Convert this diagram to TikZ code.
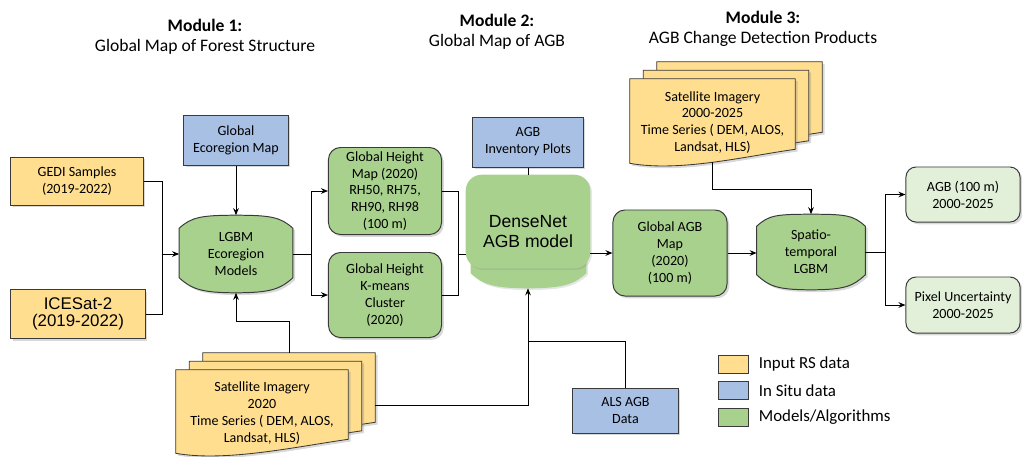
\documentclass[tikz,border=0pt]{standalone}
\usepackage{fontspec}
\setmainfont{Carlito}
\newfontfamily\arialfont{Liberation Sans}
\usepackage{xcolor}
\definecolor{agbYellow}{HTML}{FFDF8F}
\definecolor{agbBlue}{HTML}{A8C0E4}
\definecolor{agbGreen}{HTML}{A9D18E}
\definecolor{agbPale}{HTML}{E2F0D9}
\definecolor{agbLine}{HTML}{3A3A3A}
\usepackage{tikz}
\usetikzlibrary{arrows.meta,positioning,shadows,backgrounds,calc}
\tikzset{
    softshadow/.style={
        drop shadow={opacity=0.3, shadow xshift=1.6pt, shadow yshift=-1.6pt}
    },
    rsdata/.style={
        draw=agbLine,
        fill=agbYellow,
        rectangle,
        align=center,
        inner sep=2pt,
        line width=0.7pt,
        softshadow,
        font=\fontsize{10}{12}\selectfont
    },
    insitu/.style={
        rsdata,
        fill=agbBlue
    },
    model/.style={
        rsdata,
        fill=agbGreen,
        rounded corners=3mm
    },
    product/.style={
        model,
        fill=agbPale,
        rounded corners=2.5mm
    },
    barrel/.style={
        rectangle,
        align=center,
        inner sep=0pt,
        font=\fontsize{10}{12}\selectfont
    },
    stackdoc/.style={
        barrel
    },
    barrelfill/.style={
        draw=agbLine,
        fill=agbGreen,
        line width=0.7pt,
        softshadow
    },
    docfill/.style={
        draw=agbLine,
        fill=agbYellow,
        line width=0.6pt,
        softshadow
    },
    arrow/.style={
        -{Stealth[length=5pt,width=4pt]},
        line width=0.7pt,
        color=black
    },
    link/.style={
        line width=0.7pt,
        color=black
    },
    modtitle/.style={
        align=center,
        font=\fontsize{12.5}{14}\selectfont
    },
    legendkey/.style={
        draw=agbLine,
        minimum width=0.75cm,
        minimum height=0.45cm,
        inner sep=0pt,
        line width=0.5pt
    },
    legendtext/.style={
        font=\fontsize{12}{14}\selectfont,
        inner sep=1pt
    }
}

\begin{document}
\begin{tikzpicture}[x=0.025cm, y=-0.025cm]
    \useasboundingbox (0,0) rectangle (1022,456);

    \node[modtitle] (mod1) at (205,36.5) {\textbf{Module 1:}\\Global Map of Forest Structure};
    \node[modtitle] (mod2) at (497,32) {\textbf{Module 2:}\\Global Map of AGB};
    \node[modtitle] (mod3) at (763,28.5) {\textbf{Module 3:}\\AGB Change Detection Products};

    \node[rsdata, minimum width=3.3cm, minimum height=1.2cm] (gedi) at (77,181) {GEDI Samples\\(2019-2022)};
    \node[rsdata, minimum width=3.35cm, minimum height=1.225cm, font=\arialfont\fontsize{12}{12.5}\selectfont]
        (icesat) at (78,314) {ICESat-2\\(2019-2022)};
    \node[insitu, minimum width=2.6cm, minimum height=1.25cm] (ecomap) at (236,140) {Global\\Ecoregion Map};
    \node[barrel, minimum width=2.825cm, minimum height=1.925cm] (lgbm) at (236,254) {LGBM\\Ecoregion\\Models};
    \node[model, minimum width=2.825cm, minimum height=2.175cm] (hmap) at (385,191)
        {Global Height\\Map (2020)\\RH50, RH75,\\RH90, RH98\\(100 m)};
    \node[model, minimum width=2.825cm, minimum height=2.125cm] (kmeans) at (385,295)
        {Global Height\\K-means\\Cluster\\(2020)};
    \node[insitu, minimum width=2.75cm, minimum height=1.25cm] (plots) at (528,142) {AGB\\Inventory Plots};
    \node[barrel, minimum width=3.1cm, minimum height=2.825cm, font=\arialfont\fontsize{12.5}{14}\selectfont]
        (densenet) at (528,231.5) {DenseNet\\AGB model};
    \node[model, minimum width=2.85cm, minimum height=2.15cm] (agbmap) at (670,253) {Global AGB\\Map\\(2020)\\(100 m)};
    \node[stackdoc, minimum width=4.125cm, minimum height=2.175cm] (satseries) at (712.5,122.5)
        {Satellite Imagery\\2000-2025\\Time Series ( DEM, ALOS,\\Landsat, HLS)};
    \node[barrel, minimum width=2.7cm, minimum height=1.875cm] (stlgbm) at (811,252) {Spatio-\\temporal\\LGBM};
    \node[product, minimum width=2.85cm, minimum height=1.375cm] (agbout) at (963,194.5) {AGB (100 m)\\2000-2025};
    \node[product, minimum width=2.85cm, minimum height=1.4cm] (uncert) at (963,305) {Pixel Uncertainty\\2000-2025};
    \node[stackdoc, minimum width=4.3cm, minimum height=2.15cm] (sat2020) at (262,413)
        {Satellite Imagery\\2020\\Time Series ( DEM, ALOS,\\Landsat, HLS)};
    \node[insitu, minimum width=2.625cm, minimum height=1.125cm] (als) at (625.5,410.5) {ALS AGB\\Data};

    \node[legendkey, fill=agbYellow] (keyrs) at (733,364) {};
    \node[legendkey, fill=agbBlue, below=0.2cm of keyrs] (keysitu) {};
    \node[legendkey, fill=agbGreen, below=0.2cm of keysitu] (keymodel) {};
    \node[legendtext, right=0.22cm of keyrs] (txtrs) {Input RS data};
    \node[legendtext, right=0.22cm of keysitu] (txtsitu) {In Situ data};
    \node[legendtext, right=0.22cm of keymodel] (txtmodel) {Models/Algorithms};

    \begin{scope}[on background layer]
        \foreach \b/\t/\u in {lgbm/13/15, stlgbm/12/15} {
            \draw[barrelfill] ($(\b.north west)+(0,\t)$) .. controls +(12,-11) and +(-35,0) .. (\b.north)
                .. controls +(35,0) and +(-12,-11) .. ($(\b.north east)+(0,\t)$)
                -- ($(\b.south east)+(0,-\u)$) .. controls +(-12,11) and +(35,0) .. (\b.south)
                .. controls +(-35,0) and +(12,11) .. ($(\b.south west)+(0,-\u)$) -- cycle;
        }
        \fill[agbGreen, drop shadow={opacity=0.2, shadow xshift=1.2pt, shadow yshift=-1.2pt}]
            ($(densenet.south west)+(5,-34)$) -- ($(densenet.south west)+(5,-15)$)
            .. controls +(12,11) and +(-35,0) .. (densenet.south)
            .. controls +(35,0) and +(-12,11) .. ($(densenet.south east)+(-4,-15)$)
            -- ($(densenet.south east)+(-4,-34)$) -- cycle;
        \fill[agbGreen, drop shadow={opacity=0.2, shadow xshift=1.2pt, shadow yshift=-1.2pt}, rounded corners=4mm]
            (densenet.north west) rectangle ($(densenet.south east)+(0,-20)$);
        \foreach \d in {satseries, sat2020} {
            \foreach \k in {2,1,0} {
                \draw[docfill] ($(\d.north west)+(\k*13.5,-\k*8.5)$) -- ($(\d.north east)+(\k*13.5,-\k*8.5)$)
                    -- ($(\d.south east)+(\k*13.5,-\k*8.5-17)$) .. controls +(-50,7) and +(50,9)
                    .. ($(\d.south west)+(\k*13.5,-\k*8.5-3)$) -- cycle;
            }
        }
    \end{scope}

    \coordinate (inmerge) at (162,254);
    \coordinate (lgbmsplit) at (311,254);
    \coordinate (hmerge) at (458,254);
    \coordinate (alsjoin) at (528,341);
    \coordinate (outsplit) at (885,252);
    \coordinate (satbacktop) at ($(sat2020.north)+(27,-17)$);
    \coordinate (satnowout) at ($(sat2020.east)+(27,-8)$);
    \coordinate (satseriesout) at ($(satseries.south)+(0,-4)$);

    \draw[link] (gedi.east) -| (inmerge);
    \draw[link] (icesat.east) -| (inmerge);
    \draw[arrow] (inmerge) -- (lgbm.west);
    \draw[arrow] (ecomap) -- (lgbm.north);
    \draw[arrow] (satbacktop) -- ++(0,-31) -| (lgbm.south);
    \draw[link] (lgbm.east) -- (lgbmsplit);
    \draw[arrow] (lgbmsplit) |- (hmap.west);
    \draw[arrow] (lgbmsplit) |- (kmeans.west);
    \draw[link] (hmap.east) -| (hmerge);
    \draw[link] (kmeans.east) -| (hmerge);
    \draw[link] (hmerge) -- (densenet.west |- hmerge);
    \draw[link] (plots.south) -- (plots.south |- densenet.north);
    \draw[arrow] (satnowout) -| (densenet.south);
    \draw[link] (als.north) |- (alsjoin);
    \draw[arrow] (densenet.east |- agbmap.west) -- (agbmap.west);
    \draw[arrow] (agbmap.east) -- (stlgbm.west |- agbmap.east);
    \draw[arrow] (satseriesout) -- ++(0,27) -| (stlgbm.north);
    \draw[link] (stlgbm.east) -- (outsplit);
    \draw[arrow] (outsplit) |- (agbout.west);
    \draw[arrow] (outsplit) |- (uncert.west);
\end{tikzpicture}
\end{document}
